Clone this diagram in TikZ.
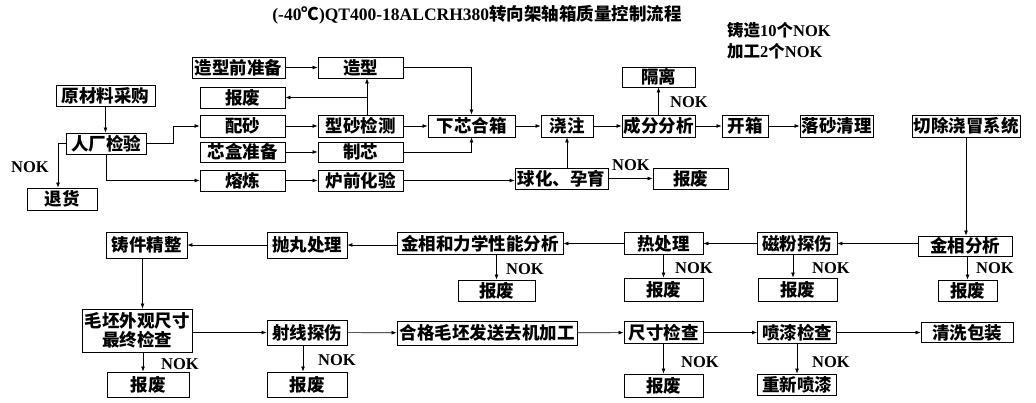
\documentclass[tikz,border=0pt]{standalone}
\usepackage{fontspec}
\setmainfont{Liberation Serif}
\newfontfamily\cjk{Noto Sans CJK SC}
\usetikzlibrary{arrows.meta}

\tikzset{
    box/.style={draw, line width=0.9pt, inner sep=0pt, minimum height=21pt,
        font=\cjk\bfseries\fontsize{17.5}{18}\selectfont},
    nok/.style={inner sep=0pt, font=\bfseries\fontsize{16.5}{17}\selectfont},
    arr/.style={-{Latex[length=5pt,width=4pt]}, line width=0.7pt},
}

\begin{document}
\begin{tikzpicture}[x=1pt, y=-1pt]
    \useasboundingbox (0,0) rectangle (1036,403);

    % title and counts
    \node[inner sep=0pt, font=\bfseries\fontsize{17.5}{18}\selectfont] (title) at (477,15)
        {(-40{\cjk ℃})QT400-18ALCRH380{\cjk 转向架轴箱质量控制流程}};
    \node[nok, anchor=west] (count1) at (727,30.5) {{\cjk 铸造}10{\cjk 个}NOK};
    \node[nok, anchor=west] (count2) at (727,51) {{\cjk 加工}2{\cjk 个}NOK};

    % casting
    \node[box, minimum width=99pt] (raw) at (105.5,95.5) {原材料采购};
    \node[box, minimum width=80pt] (incheck) at (106,143.5) {人厂检验};
    \node[box, minimum width=70pt, minimum height=22pt] (ret) at (62,199) {退货};
    \node[nok] (nokA) at (30,167) {NOK};
    \node[box, minimum width=93pt] (prep) at (238.5,67.5) {造型前准备};
    \node[box, minimum width=85pt] (mold) at (360.5,67.5) {造型};
    \node[box, minimum width=85pt] (scrapA) at (242.5,97.5) {报废};
    \node[box, minimum width=85pt, minimum height=22pt] (sand) at (242.5,126) {配砂};
    \node[box, minimum width=85pt, minimum height=22pt] (sandtest) at (360.5,126) {型砂检测};
    \node[box, minimum width=87pt, minimum height=22pt] (close) at (471.5,126) {下芯合箱};
    \node[box, minimum width=85pt, minimum height=20pt] (corebox) at (242.5,152) {芯盒准备};
    \node[box, minimum width=85pt, minimum height=20pt] (core) at (360.5,152) {制芯};
    \node[box, minimum width=85pt] (melt) at (242.5,180.5) {熔炼};
    \node[box, minimum width=85pt] (chem) at (360.5,180.5) {炉前化验};
    \node[box, minimum width=93pt] (spher) at (561.5,178.5) {球化、孕育};
    \node[box, minimum width=75pt] (scrapB) at (690.5,178.5) {报废};
    \node[nok] (nokC) at (631,165) {NOK};
    \node[box, minimum width=52pt, minimum height=22pt] (pour) at (567,126) {浇注};
    \node[box, minimum width=73pt, minimum height=22pt] (comp) at (658.5,126) {成分分析};
    \node[box, minimum width=73pt, minimum height=20pt] (isol) at (658.5,77) {隔离};
    \node[nok] (nokB) at (689,102) {NOK};
    \node[box, minimum width=46pt, minimum height=22pt] (open) at (745,126) {开箱};
    \node[box, minimum width=73pt, minimum height=22pt] (clean) at (836.5,126) {落砂清理};
    \node[box, minimum width=108pt, minimum height=22pt] (cut) at (966,126) {切除浇冒系统};

    % inspection
    \node[box, minimum width=94pt, minimum height=20pt] (metal) at (965,246) {金相分析};
    \node[box, minimum width=80pt, minimum height=22pt] (magn) at (797,243.5) {磁粉探伤};
    \node[box, minimum width=79pt, minimum height=22pt] (heat) at (663.5,243.5) {热处理};
    \node[box, minimum width=166pt, minimum height=22pt] (mech) at (480,243.5) {金相和力学性能分析};
    \node[box, minimum width=80pt, minimum height=26pt] (shot) at (307,245) {抛丸处理};
    \node[box, minimum width=81pt, minimum height=26pt] (finish) at (146.5,245) {铸件精整};
    \node[box, minimum width=77pt] (scrapM) at (496.5,290.5) {报废};
    \node[box, minimum width=79pt, minimum height=23pt] (scrapH) at (663.5,289.5) {报废};
    \node[box, minimum width=79pt, minimum height=23pt] (scrapG) at (797.5,289.5) {报废};
    \node[box, minimum width=59pt] (scrapS) at (967.5,290.5) {报废};
    \node[nok] (nokM) at (525,269) {NOK};
    \node[nok] (nokH) at (694,268) {NOK};
    \node[nok] (nokG) at (831,268) {NOK};
    \node[nok] (nokS) at (995,268) {NOK};

    % machining
    \node[box, minimum width=110pt, minimum height=43pt, align=center,
        font=\cjk\bfseries\fontsize{17.5}{19}\selectfont] (rough) at (137,330.5) {毛坯外观尺寸\\最终检查};
    \node[box, minimum width=80pt, minimum height=25pt] (xray) at (307,332.5) {射线探伤};
    \node[box, minimum width=180pt, minimum height=24pt] (ship) at (487,333) {合格毛坯发送去机加工};
    \node[box, minimum width=79pt, minimum height=22pt] (dim) at (663.5,332.5) {尺寸检查};
    \node[box, minimum width=79pt, minimum height=22pt] (paint) at (797,332.5) {喷漆检查};
    \node[box, minimum width=92pt, minimum height=20pt] (wash) at (967,332.5) {清洗包装};
    \node[box, minimum width=82pt, minimum height=25pt] (scrapR) at (148,384.5) {报废};
    \node[box, minimum width=80pt, minimum height=25pt] (scrapX) at (307,384.5) {报废};
    \node[box, minimum width=79pt, minimum height=23pt] (scrapD) at (663.5,385.5) {报废};
    \node[box, minimum width=79pt] (repaint) at (797,384.5) {重新喷漆};
    \node[nok] (nokR) at (180,364) {NOK};
    \node[nok] (nokX) at (337,360) {NOK};
    \node[nok] (nokD) at (700,362) {NOK};
    \node[nok] (nokP) at (831,362) {NOK};

    % straight arrows
    \foreach \a/\b in {prep/mold, sand/sandtest, sandtest/close, corebox/core, melt/chem,
        close/pour, pour/comp, comp/open, open/clean, comp/isol, spher/scrapB,
        magn/heat, heat/mech, shot/finish, xray/ship, ship/dim, dim/paint, paint/wash,
        heat/scrapH, dim/scrapD, paint/repaint}
        \draw[arr] (\a) -- (\b);

    \draw[arr] (raw.south) -- (raw.south |- incheck.north);
    \draw[arr] (incheck.east) -- ++(27,0) |- (sand.west);
    \draw[arr] (incheck.south) |- (melt.west);
    \draw[arr] (incheck.west) -| ([xshift=-4pt]ret.north);
    \draw[arr] ([xshift=6.5pt]sandtest.north) -- ([xshift=6.5pt]mold.south);
    \coordinate (fork) at ([xshift=6.5pt]sandtest.north |- scrapA);
    \draw[arr] (fork) -- (scrapA.east);
    \draw[arr] (mold.east) -| (close.north);
    \draw[arr] (core.east) -| (close.south);
    \draw[arr] (chem.east) -- (chem.east -| spher.west);
    \draw[arr] (pour.south |- spher.north) -- (pour.south);
    \draw[arr] (cut.south) -- (cut.south |- metal.north);
    \draw[arr] (metal.west |- magn) -- (magn.east);
    \draw[arr] (mech.west |- shot) -- (shot.east);
    \draw[arr] ([xshift=-4pt]finish.south) -- ([xshift=-4pt]finish.south |- rough.north);
    \draw[arr] (rough.east |- xray) -- (xray.west);

    % NOK branches
    \draw[arr] (scrapM.north |- mech.south) -- (scrapM.north);
    \draw[arr] ([xshift=-4pt]magn.south) -- ([xshift=-4pt]magn.south |- scrapG.north);
    \draw[arr] (scrapS.north |- metal.south) -- (scrapS.north);
    \draw[arr] ([xshift=6pt]rough.south) -- ([xshift=6pt]rough.south |- scrapR.north);
    \draw[arr] ([xshift=-4pt]xray.south) -- ([xshift=-4pt]xray.south |- scrapX.north);

\end{tikzpicture}
\end{document}
